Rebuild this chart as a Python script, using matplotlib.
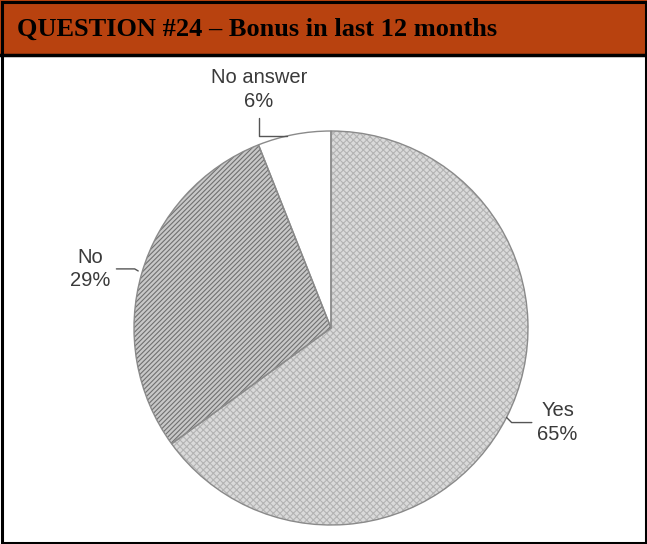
import matplotlib
matplotlib.use("Agg")
import matplotlib.pyplot as plt
from matplotlib.patches import Rectangle
import numpy as np

# data
labels = ["Yes", "No", "No answer"]
shares = [65, 29, 6]
title = "QUESTION #24 \u2013 Bonus in last 12 months"

# styling per slice
faces = ["#dadada", "#c8c8c8", "#ffffff"]
hatches = ["xxxxx", "///////", ""]
hatch_cols = ["#b4b4b4", "#707070", "#9a9a9a"]
# label positions in pie-radius units
label_xy = [(1.15, -0.48), (-1.22, 0.30), (-0.365, 1.21)]

W, H = 647, 544
fig = plt.figure(figsize=(W / 100, H / 100), dpi=100)
fig.patch.set_facecolor("white")

# title bar and frame
fig.patches.append(Rectangle((0, 1 - 55 / H), 1, 55 / H, transform=fig.transFigure,
                             facecolor="#b8420f", edgecolor="none", zorder=0))
fig.add_artist(plt.Line2D([0, 1], [1 - 55 / H, 1 - 55 / H], transform=fig.transFigure,
                          color="black", lw=2.5))
fig.patches.append(Rectangle((1.5 / W, 1.5 / H), 1 - 3 / W, 1 - 3 / H, transform=fig.transFigure,
                             facecolor="none", edgecolor="black", lw=2.2, zorder=5))
fig.text(17 / W, 1 - 29 / H, title, fontsize=19, fontweight="bold",
         family="Liberation Serif", va="center", ha="left", color="black")

# pie
cx, cy, R = 331, 328, 197
ax = fig.add_axes([(cx - R) / W, (H - cy - R) / H, 2 * R / W, 2 * R / H])
plt.rcParams["hatch.linewidth"] = 0.8
wedges, _ = ax.pie(shares, startangle=90, counterclock=False, radius=1,
                   colors=faces, wedgeprops=dict(linewidth=0))
for w, h, hc in zip(wedges, hatches, hatch_cols):
    w.set_hatch(h)
    w.set_edgecolor(hc)
    w.set_linewidth(0)
# outlines on top
ax.pie(shares, startangle=90, counterclock=False, radius=1,
       colors=["none"] * 3, wedgeprops=dict(linewidth=1.0, edgecolor="#8a8a8a"))
ax.set_xlim(-1, 1)
ax.set_ylim(-1, 1)
ax.set_aspect("equal")
ax.axis("off")

conn = {"Yes": "angle,angleA=0,angleB=-45,rad=0",
        "No": "angle,angleA=0,angleB=-30,rad=0",
        "No answer": "angle,angleA=90,angleB=0,rad=0"}
shrink_a = {"Yes": 2, "No": 2, "No answer": 3}
shrink_b = {"Yes": 0, "No": 3, "No answer": 0}
for w, lab, s, (tx, ty) in zip(wedges, labels, shares, label_xy):
    mid = np.deg2rad((w.theta1 + w.theta2) / 2 + (2 if lab == "No answer" else 0))
    ex, ey = np.cos(mid), np.sin(mid)
    ax.annotate(f"{lab}\n{s}%", xy=(ex, ey), xytext=(tx, ty),
                ha="center", va="center", fontsize=14.5, color="#3a3a3a",
                family="Liberation Sans", linespacing=1.3, annotation_clip=False,
                arrowprops=dict(arrowstyle="-", color="#555555", lw=1.0,
                                shrinkA=shrink_a[lab], shrinkB=shrink_b[lab],
                                connectionstyle=conn[lab]))

fig.savefig("out.png", dpi=100, facecolor="white")
